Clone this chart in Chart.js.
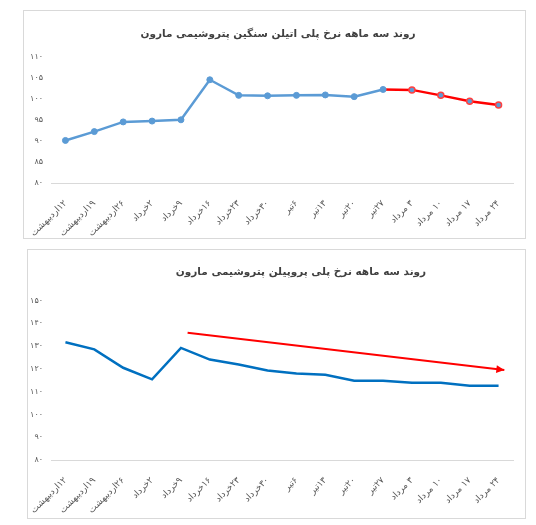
<!DOCTYPE html>
<html>
<head>
<meta charset="utf-8">
<script src="https://cdn.jsdelivr.net/npm/chart.js@4"></script>
<style>
body{margin:0;background:#fff;width:536px;height:525px;position:relative;overflow:hidden}
.box{position:absolute;border:1px solid #d9d9d9;background:#fff}
canvas{display:block}
.ttl{position:absolute;transform:translate(-50%,-50%);white-space:nowrap;direction:rtl;font:bold 10.5px 'DejaVu Sans';color:#404040}
</style>
</head>
<body>
<div class="box" style="left:23px;top:10px;width:501px;height:227px"><canvas id="peChart" width="501" height="227"></canvas></div>
<div class="box" style="left:27px;top:249px;width:497px;height:268px"><canvas id="ppChart" width="497" height="268"></canvas></div>
<div class="ttl" id="t1" style="left:278px;top:33px"></div>
<div class="ttl" id="t2" style="left:301px;top:271px"></div>
<script>
// dates (weekly)
var labels=['۱۲اردیبهشت','۱۹اردیبهشت','۲۶اردیبهشت','۲خرداد','۹خرداد','۱۶خرداد','۲۳خرداد','۳۰خرداد','۶تیر','۱۳تیر','۲۰تیر','۲۷تیر','۳ مرداد','۱۰ مرداد','۱۷ مرداد','۲۴ مرداد'];
// poly ethylene heavy - blue part, then red part
var pePast=[90.1,92.2,94.5,94.7,95.0,104.5,100.8,100.7,100.8,100.9,100.5,102.2,null,null,null,null];
var peRecent=[null,null,null,null,null,null,null,null,null,null,null,102.2,102.1,100.8,99.4,98.5];
// poly propylene
var ppData=[131.7,128.6,120.5,115.4,129.2,124.1,121.9,119.3,118.0,117.4,114.8,114.8,113.9,113.9,112.6,112.6];
// trend arrow (x in category index units)
var arrowX=[4.23,15.2];
var arrowY=[135.9,119.5];

var title1='روند سه ماهه نرخ پلی اتیلن سنگین پتروشیمی مارون';
var title2='روند سه ماهه نرخ پلی پروپیلن پتروشیمی مارون';
document.getElementById('t1').textContent=title1;
document.getElementById('t2').textContent=title2;

var font='DejaVu Sans';
var grey='#595959';
function fa(v){return String(v).replace(/\d/g,function(d){return '۰۱۲۳۴۵۶۷۸۹'[d];});}

function xAxis(h){
  return {
    offset:true,
    grid:{display:false,offset:true,drawTicks:false},
    border:{display:true,color:'#d9d9d9',width:1},
    ticks:{color:grey,font:{family:font,size:9},minRotation:45,maxRotation:45,padding:15,autoSkip:false,
      callback:function(v){return '\u200F'+this.getLabelForValue(v);}},
    afterFit:function(s){s.height=h;s.paddingLeft=0;s.paddingRight=0;}
  };
}
function yAxis(min,max,step,w){
  return {
    min:min,max:max,
    grid:{display:false,drawTicks:false},
    border:{display:false},
    ticks:{stepSize:step,color:grey,font:{family:font,size:8},padding:8,callback:function(v){return fa(v);}},
    afterFit:function(s){s.width=w;}
  };
}

new Chart(document.getElementById('peChart'),{
  type:'line',
  data:{
    labels:labels,
    datasets:[{
      data:pePast,
      borderColor:'#5b9bd5',backgroundColor:'#5b9bd5',
      borderWidth:2.5,pointRadius:3,pointBorderWidth:1,
      pointBackgroundColor:'#5b9bd5',pointBorderColor:'#5b9bd5'
    },{
      data:peRecent,
      borderColor:'#ff0000',backgroundColor:'#5b9bd5',
      borderWidth:2.5,
      pointRadius:[0,0,0,0,0,0,0,0,0,0,0,0,3,3,3,3],
      pointBorderWidth:1.5,
      pointBackgroundColor:'#5b9bd5',pointBorderColor:'#ff4040'
    }]
  },
  options:{
    responsive:false,animation:false,
    layout:{padding:{left:0,right:12,top:45.6,bottom:0}},
    plugins:{legend:{display:false},tooltip:{enabled:false}},
    scales:{x:xAxis(55),y:yAxis(80,110,5,27)}
  }
});

var arrowHead={
  id:'arrowHead',
  afterDatasetsDraw:function(chart){
    var pts=chart.getDatasetMeta(1).data;
    var a=pts[pts.length-2],b=pts[pts.length-1];
    var ang=Math.atan2(b.y-a.y,b.x-a.x);
    var ctx=chart.ctx;
    ctx.save();
    ctx.translate(b.x,b.y);ctx.rotate(ang);
    ctx.fillStyle='#ff0000';
    ctx.beginPath();ctx.moveTo(0,0);ctx.lineTo(-8,-4);ctx.lineTo(-8,4);ctx.closePath();ctx.fill();
    ctx.restore();
  }
};

new Chart(document.getElementById('ppChart'),{
  type:'line',
  data:{
    labels:labels,
    datasets:[{
      data:ppData,
      borderColor:'#0070c0',borderWidth:2.5,pointRadius:0,tension:0
    },{
      data:arrowX.map(function(x,i){return {x:x,y:arrowY[i]};}),
      xAxisID:'xa',
      borderColor:'#ff0000',borderWidth:2,pointRadius:0
    }]
  },
  options:{
    responsive:false,animation:false,
    layout:{padding:{left:0,right:12,top:50.6,bottom:0}},
    plugins:{legend:{display:false},tooltip:{enabled:false}},
    scales:{
      x:xAxis(58),
      xa:{type:'linear',min:-0.5,max:15.5,display:false},
      y:yAxis(80,150,10,23)
    }
  },
  plugins:[arrowHead]
});
</script>
</body>
</html>
